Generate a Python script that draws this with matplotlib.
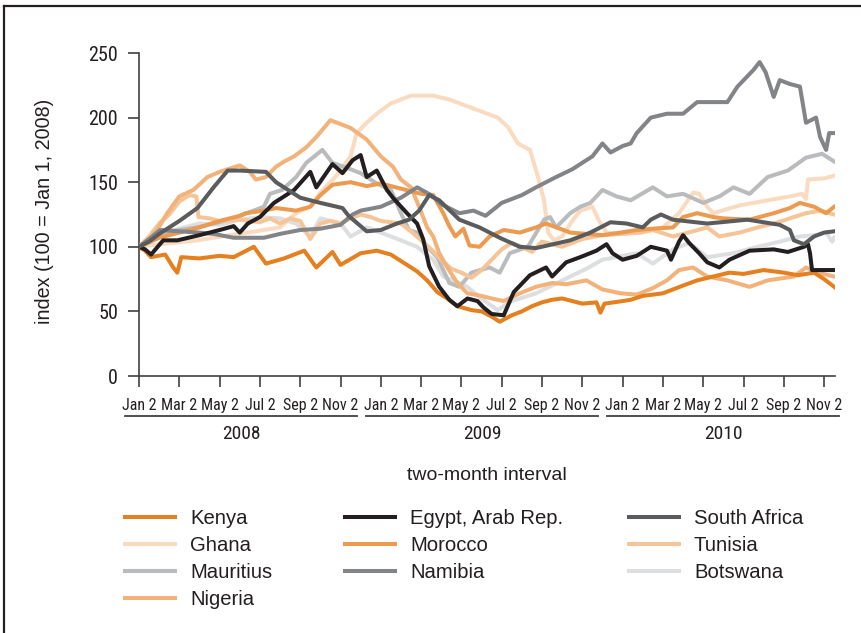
import matplotlib
matplotlib.use("Agg")
import matplotlib.pyplot as plt
import matplotlib.transforms as mtransforms
from matplotlib.lines import Line2D

# %%
# Index values (100 = Jan 1, 2008).
# x is in months since Jan 2, 2008 (ticks every two months).
kenya_m = [0, 0.3, 0.6, 1.3, 1.7, 1.9, 2.1, 3, 4, 4.7, 5.7, 6.3, 7.2, 8.2, 8.8, 9.6, 10, 11, 11.8,
           12.5, 13, 13.8, 14.3, 14.8, 15.3, 15.8, 16.5, 17, 17.5, 17.9, 18.5, 19, 19.5, 20, 20.5,
           21, 22, 22.7, 22.9, 23.1, 24, 24.4, 25, 26, 27, 27.7, 28.5, 29.3, 30, 31, 32, 32.7,
           33.5, 34, 34.5]
kenya_v = [100, 97, 92, 94, 84, 80, 92, 91, 93, 92, 100, 87, 91, 97, 84, 96, 86, 95, 97,
           94, 89, 81, 74, 65, 60, 54, 51, 50, 46, 42, 47, 50, 54, 57, 59,
           60, 56, 57, 49, 56, 58, 59, 62, 64, 70, 74, 77, 80, 79, 82, 80, 78,
           80, 75, 69]

ghana_m = [0, 1, 2.9, 4.5, 6.2, 7, 7.8, 8.5, 9, 9.8, 10.5, 10.8, 11.3, 11.8, 12.5, 13.5, 14.6,
           15.4, 16.6, 17.8, 18.3, 18.8, 19.4, 19.8, 20.1, 20.3, 20.6, 21, 21.5, 21.9, 22.5,
           22.8, 23.2, 24, 25, 26, 26.8, 27.5, 27.8, 28.2, 28.5, 29.8, 31.2, 32.3, 32.9, 33.1,
           33.2, 34, 34.5]
ghana_v = [100, 102, 105, 109, 113, 115, 126, 131, 142, 155, 170, 188, 196, 203, 211, 217, 217,
           214, 207, 200, 193, 180, 175, 154, 136, 111, 105, 108, 120, 128, 131,
           121, 111, 110, 112, 115, 126, 142, 141, 131, 126, 132, 136, 139, 141, 137,
           152, 153, 155]

mauritius_m = [0, 0.5, 1.2, 2.9, 4.5, 6.2, 6.5, 7.1, 7.8, 8.3, 9.1, 9.6, 10.5, 11, 11.8, 12.5,
               13, 13.4, 13.8, 14.3, 14.8, 15.4, 15.9, 16.5, 17.4, 17.9, 18.4, 19.3, 20.1, 20.4,
               20.7, 21.4, 21.9, 22.4, 23, 23.7, 24.4, 25.5, 26.2, 27, 28, 28.8, 29.5, 30.3,
               31.2, 32.2, 33.1, 33.9, 34.5]
mauritius_v = [100, 106, 111, 115, 121, 131, 141, 144, 154, 165, 175, 165, 160, 157, 149, 144,
               126, 113, 111, 100, 92, 72, 69, 80, 84, 80, 95, 100, 121, 123,
               115, 126, 131, 134, 144, 139, 136, 146, 139, 141, 134, 139, 146, 141,
               154, 159, 169, 172, 166]

nigeria_m = [0, 0.5, 0.9, 1.4, 2, 2.7, 3.4, 4, 4.4, 5, 5.5, 5.8, 6.3, 6.8, 7.2, 7.7, 8.3, 8.8,
             9.5, 10, 10.5, 11.3, 12, 12.6, 13, 13.5, 13.9, 14.3, 14.6, 14.9, 15.3, 15.8, 16.3,
             17, 17.5, 18.1, 18.9, 19.7, 20.5, 21.2, 22.2, 23, 23.9, 24.7, 25.5, 26.2, 26.8,
             27.5, 28.2, 29.2, 30.3, 31.2, 32.5, 33.1, 33.7, 34.5]
nigeria_v = [100, 105, 113, 126, 139, 144, 154, 158, 160, 163, 158, 152, 154, 162, 166, 170, 177, 185,
             198, 195, 192, 183, 170, 162, 152, 146, 131, 115, 108, 95, 84, 72, 64,
             62, 60, 58, 64, 69, 72, 71, 74, 67, 64, 63, 68, 74, 82,
             84, 77, 74, 69, 74, 77, 84, 80, 77]

egypt_m = [0, 0.3, 0.6, 1.2, 1.9, 3, 4, 4.7, 5, 5.4, 6, 6.7, 7.2, 7.7, 8.5, 8.8, 9.6, 10.1, 10.6,
           11, 11.3, 11.8, 12.3, 12.6, 13.3, 13.8, 14.1, 14.4, 14.9, 15.4, 15.8, 16.3, 16.8,
           17.1, 17.5, 18.1, 18.6, 19.4, 20.2, 20.5, 21.2, 21.9, 22.7, 23.2, 23.5, 24, 24.7,
           25.4, 26.2, 26.4, 26.8, 27, 27.3, 27.8, 28.2, 28.8, 29.3, 30.3, 31.5, 32.2, 33,
           33.2, 33.3, 33.4, 34.6]
egypt_v = [100, 98, 94, 105, 105, 109, 113, 116, 111, 118, 123, 134, 139, 144, 158, 146, 164, 157, 167,
           171, 154, 159, 144, 138, 126, 118, 106, 85, 69, 59, 54, 60, 58,
           53, 48, 47, 65, 78, 84, 77, 88, 92, 97, 102, 95, 90, 93,
           100, 97, 90, 104, 109, 103, 95, 88, 84, 90, 97, 98, 96, 100,
           102, 95, 82, 82]

morocco_m = [0, 1, 2, 3, 4, 5, 5.3, 6.2, 6.8, 7.8, 8.5, 9, 9.6, 10.5, 11.3, 12, 13, 14, 14.6,
             15.1, 15.4, 15.7, 16.1, 16.4, 16.9, 17.4, 18.1, 18.9, 19.7, 20.2, 21.4, 23, 23.9,
             24.7, 25.5, 26.5, 27, 27.7, 28.5, 29, 30.3, 31.5, 32.3, 32.8, 33.5, 34.1, 34.5]
morocco_v = [100, 107, 111, 115, 120, 124, 126, 128, 130, 128, 131, 140, 148, 150, 147, 149, 145, 141, 140,
             126, 116, 108, 114, 101, 100, 108, 113, 111, 115, 118, 111, 109, 111,
             113, 114, 115, 123, 126, 123, 122, 121, 126, 130, 134, 131, 126, 131]

namibia_m = [0, 0.5, 1.05, 2, 3, 3.7, 4.7, 6.2, 7, 8, 9, 10, 10.6, 11, 12, 13, 13.8, 14.5, 15,
             15.9, 16.6, 17.2, 18, 19, 19.7, 20.7, 21.5, 22, 22.5, 23, 23.4, 24, 24.4, 24.7,
             25.4, 26.2, 27, 27.7, 28.5, 29.2, 29.7, 30.5, 30.8, 31.1, 31.5, 31.8, 32.3, 32.8,
             33.1, 33.6, 33.8, 34.1, 34.25, 34.5]
namibia_v = [100, 106, 113, 112, 111, 110, 107, 107, 110, 113, 114, 117, 125, 128, 131, 138, 146, 140, 133,
             126, 128, 124, 134, 140, 146, 154, 160, 165, 170, 180, 173, 178, 180, 188,
             200, 203, 203, 212, 212, 212, 224, 237, 243, 235, 216, 229, 226, 224,
             196, 200, 185, 175, 188, 188]

south_africa_m = [0, 0.5, 1, 2, 2.9, 3.7, 4.4, 5, 6.3, 6.8, 8, 9, 10.1, 10.4, 11.3, 12, 12.8,
                  13.4, 13.9, 14.4, 14.9, 15.9, 16.9, 17.9, 18.9, 19.7, 21.4, 22.4, 23.4, 24.2,
                  25, 25.4, 25.9, 26.5, 28.2, 30.2, 31.8, 32.3, 32.5, 33, 33.5, 34, 34.5]
south_africa_v = [100, 104, 110, 120, 130, 146, 159, 159, 158, 150, 138, 134, 130, 124, 112, 113, 118,
                  121, 128, 140, 136, 121, 115, 107, 100, 99, 105, 111, 119, 118,
                  115, 121, 125, 121, 118, 121, 117, 113, 105, 102, 108, 111, 112]

tunisia_m = [0, 0.5, 1, 1.5, 2, 2.5, 2.85, 2.95, 3.5, 4, 5, 6, 6.5, 7, 7.5, 8, 8.5, 9, 9.5, 10,
             10.5, 11, 11.5, 12, 13, 13.5, 14, 14.5, 15, 15.5, 16, 16.5, 17, 17.5, 18, 18.5, 19,
             19.5, 20, 21, 22, 23, 24, 24.9, 25.5, 26.5, 27.5, 28.2, 28.8, 29.8, 30.7, 31.5,
             32.5, 33.1, 33.8, 34.5]
tunisia_v = [100, 108, 118, 125, 135, 140, 139, 123, 122, 120, 121, 119, 122, 118, 122, 120, 106, 118, 120, 118,
             122, 125, 123, 120, 118, 112, 105, 98, 90, 83, 80, 76, 82, 90, 98, 103, 100,
             96, 104, 100, 106, 109, 110, 111, 113, 108, 112, 115, 108, 111, 115, 118,
             123, 126, 128, 125]

botswana_m = [0, 1, 2, 3, 4, 5, 6, 7, 7.8, 8.5, 9, 10, 10.5, 11.3, 12, 13, 13.8, 14.6, 15.1,
              15.6, 16.3, 16.9, 17.8, 18.5, 19.7, 20.5, 21.4, 22.2, 23, 24, 24.7, 25.5, 26.5,
              27.3, 28.2, 29.5, 30.7, 31.8, 32.8, 33.5, 34.1, 34.4, 34.5]
botswana_v = [100, 110, 114, 118, 117, 121, 123, 122, 118, 108, 122, 118, 108, 115, 111, 105, 100, 90, 77,
              74, 69, 61, 51, 58, 64, 70, 77, 83, 90, 93, 95, 87, 98,
              103, 92, 95, 100, 104, 108, 109, 111, 104, 107]

tick_pos = list(range(0, 36, 2))
tick_labels = ["Jan 2", "Mar 2", "May 2", "Jul 2", "Sep 2", "Nov 2"] * 3
years = ["2008", "2009", "2010"]

# %%
plt.rcParams["font.family"] = ["Liberation Sans", "DejaVu Sans"]
narrow = ["Roboto Condensed", "Archivo Narrow", "DejaVu Sans"]
axis_c = "#414042"
text_c = "#231F20"

fig = plt.figure(figsize=(8.62, 6.33), dpi=100)
ax = fig.add_axes([0.16125, 0.406, 0.80742, 0.51027])

# (label, x, y, colour, drawing order)
series = [
    ("Kenya", kenya_m, kenya_v, "#E4801F", 6),
    ("Ghana", ghana_m, ghana_v, "#FADBC0", 1),
    ("Mauritius", mauritius_m, mauritius_v, "#BABBBD", 3),
    ("Nigeria", nigeria_m, nigeria_v, "#F2B27A", 4),
    ("Egypt, Arab Rep.", egypt_m, egypt_v, "#231F20", 8),
    ("Morocco", morocco_m, morocco_v, "#EB9A50", 5),
    ("Namibia", namibia_m, namibia_v, "#838487", 7),
    ("South Africa", south_africa_m, south_africa_v, "#5A5B5D", 9),
    ("Tunisia", tunisia_m, tunisia_v, "#F6C597", 3.5),
    ("Botswana", botswana_m, botswana_v, "#DDDEDF", 2),
]
handles = []
for label, xs, ys, color, z in series:
    (ln,) = ax.plot(xs, ys, color=color, lw=2.9, zorder=z, label=label,
                    solid_joinstyle="round")
    handles.append(ln)

ax.set_xlim(0, 34.54)
ax.set_ylim(0, 250)
ax.set_yticks([0, 50, 100, 150, 200, 250])
ax.set_xticks(tick_pos)
ax.set_xticklabels(tick_labels)
for side in ["top", "right"]:
    ax.spines[side].set_visible(False)
for side in ["left", "bottom"]:
    ax.spines[side].set_color(axis_c)
    ax.spines[side].set_linewidth(1.2)
ax.tick_params(axis="both", direction="out", length=8, width=1.2, color=axis_c,
               labelcolor=text_c)
ax.tick_params(axis="y", pad=7, labelsize=14.5)
ax.tick_params(axis="x", pad=7.5, labelsize=11.5)
for lab in ax.get_xticklabels() + ax.get_yticklabels():
    lab.set_fontfamily(narrow)

# year brackets under the month labels
trans = mtransforms.blended_transform_factory(ax.transData, ax.transAxes)
for i, yr in enumerate(years):
    x0 = -0.68 + 11.96 * i
    x1 = x0 + 11.48
    ax.plot([x0, x1], [-0.123, -0.123], color=axis_c, lw=1.3, transform=trans, clip_on=False)
    ax.text((x0 + x1) / 2, -0.18, yr, transform=trans, ha="center", va="center",
            fontsize=14, family=narrow, color=text_c)

fig.text(0.565, 1 - 475 / 633, "two-month interval", ha="center", va="center",
         fontsize=14, color=text_c)
fig.text(45 / 862, 1 - 211 / 633, "index (100 = Jan 1, 2008)", rotation=90,
         ha="center", va="center", fontsize=14.2, color=text_c)

# legend in three columns
cols = [handles[0:4], handles[4:7], handles[7:10]]
col_x = [125, 345, 629]
for hs, cx in zip(cols, col_x):
    fig.legend(handles=hs, labels=[h.get_label() for h in hs], loc="upper left",
               bbox_to_anchor=(cx / 862, 1 - 509 / 633), frameon=False, fontsize=14.6,
               borderpad=0, borderaxespad=0, handlelength=2.45, handletextpad=0.75,
               labelspacing=0.4, labelcolor=text_c)

# border of the figure panel (left and top edges)
fig.add_artist(Line2D([4.5 / 862, 4.5 / 862], [0, 1 - 5.5 / 633], color=text_c, lw=1.6,
                      transform=fig.transFigure))
fig.add_artist(Line2D([4.5 / 862, 1], [1 - 5.5 / 633, 1 - 5.5 / 633], color=text_c, lw=1.6,
                      transform=fig.transFigure))

fig.savefig("out.png", dpi=100)
